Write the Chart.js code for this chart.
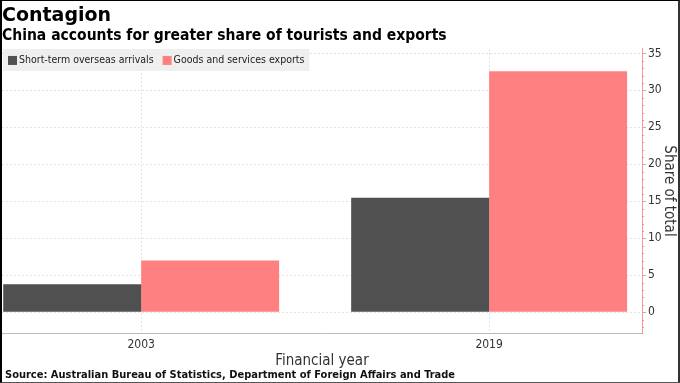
<!DOCTYPE html>
<html>
<head>
<meta charset="utf-8">
<script src="https://cdn.jsdelivr.net/npm/chart.js@4"></script>
<style>
  html, body { margin: 0; padding: 0; background: #fff; }
  #frame {
    position: absolute; left: 0; top: 0;
    width: 676px; height: 381px;
    border-left: 2px solid #000; border-right: 2px solid #333;
    border-top: 1px solid #000; border-bottom: 1px solid #555;
  }
</style>
</head>
<body>
<div id="frame"><canvas id="chart"></canvas></div>
<script>
// Share of total (%)
const years = [2003, 2019];
const arrivals = [3.8, 15.5];
const exportsShare = [7.0, 32.6];
const yTicks = [0, 5, 10, 15, 20, 25, 30, 35];

const dark = '#505050';
const pink = '#ff8080';
const axisPink = 'rgba(240,120,120,0.75)';

const toPoints = vals => years.map((yr, i) => ({ x: yr, y: vals[i] }));

// legend drawn inside the plot area, on a light grey strip
const insideLegend = {
  id: 'insideLegend',
  beforeDatasetsDraw(chart) {
    const ctx = chart.ctx;
    const area = chart.chartArea;
    ctx.save();
    ctx.font = '10.5px "DejaVu Sans Condensed", "DejaVu Sans", sans-serif';
    ctx.textBaseline = 'middle';
    const top = area.top;
    const items = chart.data.datasets.map(ds => ({ label: ds.label, color: ds.backgroundColor }));
    const widths = items.map(it => ctx.measureText(it.label).width);
    const w = 6 + widths.reduce((a, b) => a + b + 11, 0) + 9 * (items.length - 1) + 4;
    ctx.fillStyle = 'rgba(236,236,236,0.85)';
    ctx.fillRect(area.left + 1, top, w, 22);
    let x = area.left + 6;
    items.forEach((it, i) => {
      ctx.fillStyle = it.color;
      ctx.fillRect(x, top + 7, 9, 9);
      ctx.fillStyle = '#222';
      ctx.fillText(it.label, x + 11, top + 11.5);
      x += 11 + widths[i] + 9;
    });
    ctx.restore();
  }
};

// small minor ticks on the right axis plus the source line
const extras = {
  id: 'extras',
  afterDraw(chart) {
    const ctx = chart.ctx;
    const y = chart.scales.y;
    ctx.save();
    ctx.strokeStyle = axisPink;
    ctx.lineWidth = 1;
    for (let v = Math.ceil(y.min); v <= Math.floor(y.max); v++) {
      if (v % 5 === 0) continue;
      const py = Math.round(y.getPixelForValue(v)) + 0.5;
      ctx.beginPath();
      ctx.moveTo(y.left, py);
      ctx.lineTo(y.left + 2, py);
      ctx.stroke();
    }
    ctx.fillStyle = '#111';
    ctx.font = 'bold 11px "DejaVu Sans Condensed", "DejaVu Sans", sans-serif';
    ctx.textBaseline = 'alphabetic';
    ctx.fillText('Source: Australian Bureau of Statistics, Department of Foreign Affairs and Trade', 3, chart.height - 4);
    ctx.restore();
  }
};

new Chart(document.getElementById('chart'), {
  type: 'bar',
  data: {
    datasets: [
      { label: 'Short-term overseas arrivals', data: toPoints(arrivals), backgroundColor: dark },
      { label: 'Goods and services exports', data: toPoints(exportsShare), backgroundColor: pink }
    ]
  },
  options: {
    responsive: true,
    maintainAspectRatio: false,
    animation: false,
    layout: { padding: { left: 0, right: 0, top: 0, bottom: 12 } },
    datasets: { bar: { barPercentage: 1, categoryPercentage: 0.793 } },
    plugins: {
      legend: { display: false },
      tooltip: { enabled: false },
      title: {
        display: true, text: 'Contagion', align: 'start', color: '#000',
        font: { family: '"DejaVu Sans", sans-serif', size: 19, weight: 'bold', lineHeight: 1.1 },
        padding: { top: 5, bottom: 1 }
      },
      subtitle: {
        display: true, text: 'China accounts for greater share of tourists and exports', align: 'start', color: '#000',
        font: { family: '"DejaVu Sans Condensed", "DejaVu Sans", sans-serif', size: 15.5, weight: 'bold', lineHeight: 1.1 },
        padding: { top: 0, bottom: 4 }
      }
    },
    scales: {
      x: {
        type: 'linear',
        offset: false,
        min: 1996.6,
        max: 2026.03,
        afterBuildTicks: s => { s.ticks = years.map(v => ({ value: v })); },
        afterFit: s => { s.height = 37; },
        ticks: {
          callback: v => String(v), color: '#333', padding: 5, maxRotation: 0,
          font: { family: '"DejaVu Sans Condensed", "DejaVu Sans", sans-serif', size: 12 }
        },
        grid: { color: '#e2e2e2', drawTicks: false, offset: false },
        border: { color: '#bbb', dash: [2, 2] },
        title: {
          display: true, text: 'Financial year', color: '#333', padding: { top: 2, bottom: 0 },
          font: { family: '"DejaVu Sans Condensed", "DejaVu Sans", sans-serif', size: 15 }
        }
      },
      y: {
        position: 'right',
        min: -2.8,
        max: 35.6,
        afterBuildTicks: s => { s.ticks = yTicks.map(v => ({ value: v })); },
        afterFit: s => { s.width = 36; },
        ticks: {
          color: '#333', padding: 2,
          font: { family: '"DejaVu Sans Condensed", "DejaVu Sans", sans-serif', size: 12 }
        },
        grid: { color: '#e2e2e2', tickColor: axisPink, tickLength: 4 },
        border: { color: axisPink, dash: [2, 2] },
        title: {
          display: true, text: 'Share of total', color: '#333', padding: 0,
          font: { family: '"DejaVu Sans Condensed", "DejaVu Sans", sans-serif', size: 15 }
        }
      }
    }
  },
  plugins: [insideLegend, extras]
});
</script>
</body>
</html>
